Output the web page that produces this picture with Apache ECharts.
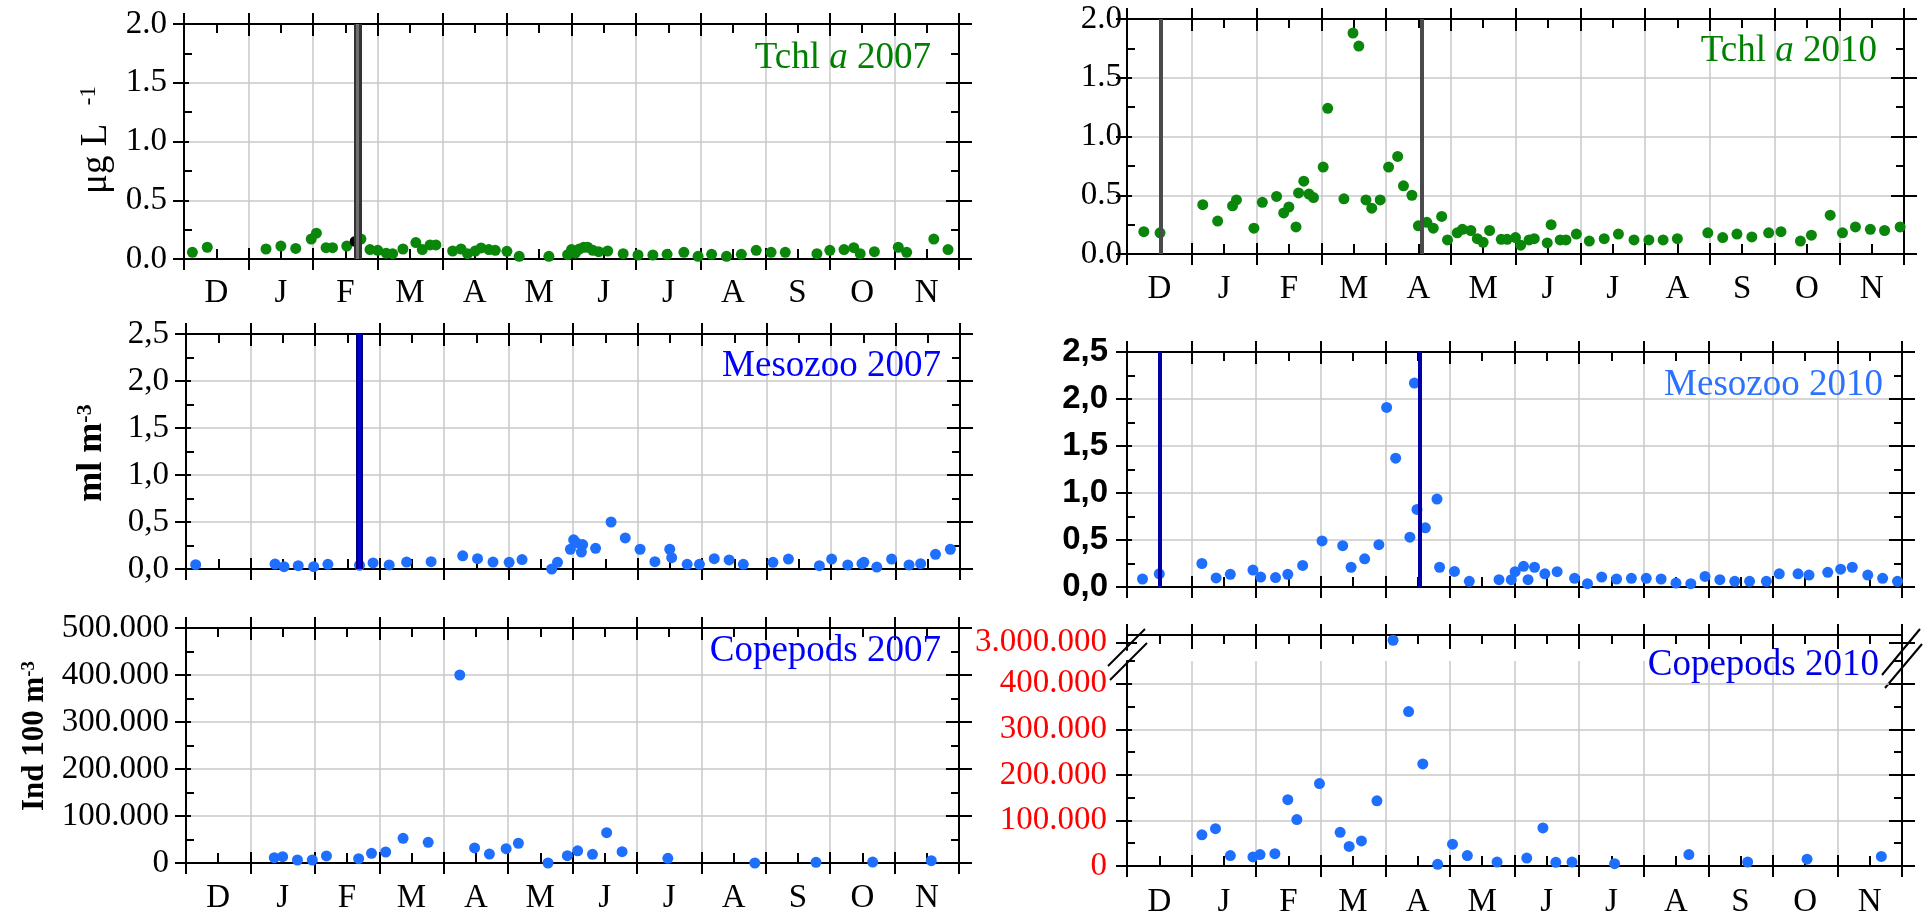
<!DOCTYPE html>
<html>
<head>
<meta charset="utf-8">
<title>Tchl a, Mesozoo and Copepods 2007 / 2010</title>
<script src="https://cdn.jsdelivr.net/npm/echarts@6/dist/echarts.min.js"></script>
<style>
  html, body { margin: 0; background: #fff; }
  #chart { width: 1927px; height: 919px; }
</style>
</head>
<body>
<div id="chart"></div>
<script>
// x is months since 1 December (0 = 1 Dec, 12 = 1 Dec next year)
const monthLabels = ['D', 'J', 'F', 'M', 'A', 'M', 'J', 'J', 'A', 'S', 'O', 'N'];

// Tchl a (ug/L)
const chl2007 = [[0.13,0.057],[0.36,0.10],[1.27,0.085],[1.50,0.11],[1.73,0.09],[1.97,0.17],[2.05,0.22],[2.20,0.096],[2.30,0.096],[2.52,0.11],[2.74,0.17],[2.88,0.08],[3.00,0.074],[3.13,0.05],[3.23,0.045],[3.39,0.085],[3.59,0.14],[3.69,0.08],[3.81,0.12],[3.90,0.12],[4.16,0.068],[4.29,0.085],[4.39,0.045],[4.51,0.068],[4.60,0.094],[4.72,0.08],[4.82,0.074],[5.00,0.065],[5.19,0.023],[5.65,0.023],[5.94,0.037],[6.00,0.08],[6.06,0.05],[6.12,0.085],[6.19,0.10],[6.25,0.10],[6.33,0.074],[6.42,0.062],[6.56,0.068],[6.80,0.045],[7.03,0.034],[7.26,0.034],[7.48,0.04],[7.74,0.057],[7.96,0.023],[8.17,0.04],[8.40,0.023],[8.63,0.04],[8.86,0.074],[9.09,0.057],[9.31,0.057],[9.80,0.045],[10.00,0.074],[10.22,0.08],[10.37,0.096],[10.47,0.045],[10.69,0.062],[11.06,0.10],[11.19,0.057],[11.61,0.17],[11.83,0.08]];
const chl2007Marked = [[2.65,0.15]];
const chl2007Bars = [2.69];

const chl2010 = [[0.26,0.19],[0.51,0.18],[1.17,0.42],[1.40,0.28],[1.63,0.41],[1.69,0.46],[1.96,0.22],[2.09,0.44],[2.31,0.49],[2.42,0.35],[2.50,0.40],[2.61,0.23],[2.65,0.52],[2.73,0.62],[2.81,0.51],[2.88,0.48],[3.03,0.74],[3.10,1.24],[3.35,0.47],[3.49,1.88],[3.58,1.77],[3.69,0.46],[3.78,0.39],[3.91,0.46],[4.04,0.74],[4.18,0.83],[4.27,0.58],[4.40,0.50],[4.50,0.24],[4.63,0.27],[4.73,0.22],[4.86,0.32],[4.95,0.12],[5.10,0.18],[5.18,0.21],[5.31,0.20],[5.41,0.13],[5.50,0.10],[5.60,0.20],[5.78,0.125],[5.87,0.125],[6.00,0.14],[6.08,0.075],[6.21,0.12],[6.29,0.13],[6.49,0.094],[6.55,0.25],[6.69,0.12],[6.78,0.12],[6.94,0.17],[7.14,0.11],[7.37,0.13],[7.59,0.17],[7.83,0.12],[8.06,0.12],[8.28,0.12],[8.50,0.13],[8.97,0.18],[9.20,0.14],[9.42,0.17],[9.65,0.145],[9.91,0.18],[10.10,0.19],[10.40,0.11],[10.57,0.16],[10.86,0.33],[11.05,0.18],[11.25,0.23],[11.48,0.21],[11.70,0.20],[11.94,0.23]];
const chl2010Lines = [0.52, 4.55];

// Mesozooplankton (ml/m3)
const meso2007 = [[0.15,0.046],[1.38,0.053],[1.52,0.025],[1.74,0.035],[1.98,0.025],[2.20,0.05],[2.69,0.04],[2.90,0.064],[3.15,0.043],[3.42,0.074],[3.80,0.078],[4.29,0.14],[4.52,0.11],[4.76,0.074],[5.01,0.071],[5.21,0.10],[5.67,0.0],[5.76,0.071],[5.96,0.21],[6.01,0.31],[6.05,0.28],[6.13,0.18],[6.15,0.26],[6.35,0.22],[6.59,0.50],[6.81,0.33],[7.04,0.21],[7.27,0.078],[7.50,0.21],[7.53,0.12],[7.77,0.05],[7.96,0.05],[8.19,0.11],[8.42,0.096],[8.64,0.05],[9.10,0.071],[9.34,0.106],[9.82,0.035],[10.01,0.106],[10.26,0.043],[10.48,0.057],[10.51,0.071],[10.71,0.021],[10.94,0.106],[11.21,0.043],[11.39,0.057],[11.62,0.156],[11.85,0.21]];
const meso2007Bars = [2.69];

const meso2010 = [[0.24,0.085],[0.50,0.14],[1.16,0.25],[1.38,0.096],[1.60,0.135],[1.95,0.18],[2.07,0.106],[2.30,0.10],[2.49,0.135],[2.72,0.23],[3.02,0.49],[3.34,0.44],[3.47,0.21],[3.68,0.30],[3.90,0.45],[4.02,1.91],[4.16,1.37],[4.38,0.53],[4.45,2.17],[4.49,0.825],[4.62,0.63],[4.80,0.935],[4.84,0.21],[5.07,0.166],[5.30,0.06],[5.76,0.078],[5.95,0.078],[6.01,0.163],[6.14,0.22],[6.21,0.078],[6.31,0.21],[6.47,0.14],[6.66,0.163],[6.93,0.092],[7.13,0.035],[7.35,0.106],[7.58,0.085],[7.81,0.092],[8.04,0.092],[8.27,0.085],[8.50,0.042],[8.73,0.035],[8.95,0.113],[9.18,0.078],[9.41,0.06],[9.64,0.06],[9.90,0.06],[10.10,0.14],[10.39,0.14],[10.56,0.127],[10.85,0.156],[11.05,0.19],[11.23,0.21],[11.47,0.127],[11.70,0.092],[11.93,0.06]];
const meso2010Lines = [0.50, 4.54];

// Copepods (ind / 100 m3)
const cope2007 = [[1.37,11400],[1.50,13500],[1.73,6400],[1.96,6400],[2.18,15000],[2.68,9200],[2.88,20600],[3.10,23400],[3.37,52600],[3.76,44000],[4.25,400000],[4.48,32000],[4.71,19000],[4.97,30500],[5.16,42000],[5.62,0],[5.92,15600],[6.08,26000],[6.31,18500],[6.53,64600],[6.77,24000],[7.48,10000],[8.83,0],[9.78,1400],[10.66,2000],[11.57,5000]];

const cope2010 = [[1.16,68500],[1.37,82000],[1.60,23000],[1.95,20000],[2.06,25000],[2.29,27000],[2.49,145600],[2.63,102000],[2.98,181000],[3.30,74000],[3.44,43000],[3.63,55000],[3.87,143000],[4.36,339000],[4.58,224000],[4.81,3600],[5.04,48000],[5.27,23000],[5.73,8600],[6.19,17300],[6.44,83600],[6.64,8000],[6.89,8600],[7.55,5000],[8.70,25000],[9.61,8600],[10.53,15000],[11.68,21000]];
const cope2010Peak = [[4.12,3030000]];

const SERIF = '"Liberation Serif", "Times New Roman", serif';
const SANS = '"Liberation Sans", Arial, sans-serif';
const GRID_COLOR = '#c8c8c8';
const GREEN = '#0a860a';
const BLUE_DOT = '#1f6fff';

function steps(a, b, step) {
  const out = [];
  for (let v = a; v <= b + step * 1e-6; v += step) out.push(+v.toFixed(6));
  return out;
}
const dotThousands = v => String(Math.round(v)).replace(/\B(?=(\d{3})+(?!\d))/g, '.');

const grids = [], xAxes = [], yAxes = [], series = [];

// one panel = a grid with framed axes; ticks cross the frame like the original plots
function addPanel(p) {
  const g = grids.length;
  grids.push({ left: p.left, top: p.top, width: p.width, height: p.height });
  const solid = { show: true, onZero: false, lineStyle: { color: '#000', width: 2 } };
  const hidden = { show: false, onZero: false };
  const tick = (len, inside, values) => ({
    show: true, inside: inside, length: len, customValues: values,
    lineStyle: { color: '#000', width: 2 }
  });
  const xMaj = steps(0, 12, 1), xMin = steps(0.5, 11.5, 1);
  const xAxis = (position, line, axisTick, splitShow) => {
    xAxes.push({
      gridIndex: g, type: 'value', position, min: 0, max: 12, interval: 1,
      axisLine: line ? solid : hidden, axisTick, axisLabel: { show: false },
      splitLine: { show: !!splitShow, lineStyle: { color: GRID_COLOR, width: 1.5 } }
    });
    return xAxes.length - 1;
  };
  let xMain = null;
  if (p.bottomAxis) {
    xMain = xAxis('bottom', true, tick(11, true, xMaj), p.vGrid);
    xAxis('bottom', false, tick(11, false, xMaj));
    xAxis('bottom', false, tick(10, true, xMin));
  }
  if (p.topAxis) {
    const i = xAxis('top', true, tick(p.topIn || 12, true, xMaj), xMain == null && p.vGrid);
    if (xMain == null) xMain = i;
    xAxis('top', false, tick(11, false, xMaj));
    xAxis('top', false, tick(9, true, xMin));
  }
  if (p.months) {
    xAxes.push({
      gridIndex: g, type: 'category', position: 'bottom', data: monthLabels, boundaryGap: true,
      axisLine: hidden, axisTick: { show: false }, splitLine: { show: false },
      axisLabel: { show: true, interval: 0, margin: p.monthMargin, color: '#000', fontFamily: SERIF, fontSize: 33 }
    });
  }
  const yAxis = (position, line, axisTick, label, split) => {
    yAxes.push({
      gridIndex: g, type: 'value', position, min: p.yMin, max: p.yMax, interval: p.yStep,
      axisLine: line ? solid : hidden, axisTick, axisLabel: label || { show: false },
      splitLine: split || { show: false }
    });
    return yAxes.length - 1;
  };
  const yMain = yAxis('left', true, tick(11, false, p.yMajor), {
    show: true, margin: p.labelMargin, color: p.labelColor || '#000',
    fontFamily: p.labelFont || SERIF, fontSize: p.labelSize || 33,
    fontWeight: p.labelWeight || 'normal', formatter: p.fmt
  }, { show: true, lineStyle: { color: p.splitColors || GRID_COLOR, width: 1.5 } });
  yAxis('left', false, tick(p.leftIn || 5, true, p.yMajor));
  if (p.yMinor.length) yAxis('left', false, tick(8, true, p.yMinor));
  yAxis('right', true, tick(13, true, p.yMajor));
  yAxis('right', false, tick(13, false, p.yMajor));
  if (p.yMinor.length) yAxis('right', false, tick(8, true, p.yMinor));
  return { x: xMain, y: yMain };
}

function addDots(ax, data, color) {
  series.push({
    type: 'scatter', xAxisIndex: ax.x, yAxisIndex: ax.y, data: data, symbolSize: 11,
    itemStyle: { color: color, opacity: 1 }, clip: false, z: 3, silent: true
  });
}
function addVLines(ax, values, color, width) {
  series.push({
    type: 'line', xAxisIndex: ax.x, yAxisIndex: ax.y, data: [], z: 1, silent: true,
    markLine: {
      silent: true, symbol: ['none', 'none'], label: { show: false }, animation: false,
      lineStyle: { color: color, width: width, type: 'solid', opacity: 1 },
      data: values.map(v => ({ xAxis: v }))
    }
  });
}

const fmt1 = v => v.toFixed(1);
const fmtComma = v => v.toFixed(1).replace('.', ',');

// Tchl a 2007
const p1 = addPanel({ left: 184, top: 24, width: 775, height: 235, bottomAxis: true, topAxis: true, vGrid: true,
  months: true, monthMargin: 18, yMin: 0, yMax: 2, yStep: 0.5, yMajor: steps(0, 2, 0.5), yMinor: steps(0.25, 1.75, 0.5),
  labelMargin: 17, fmt: fmt1 });
addVLines(p1, chl2007Bars, '#333333', 8);
addVLines(p1, chl2007Bars, '#6e6e6e', 3);
addDots(p1, chl2007, GREEN);
addDots(p1, chl2007Marked, '#000000');

// Tchl a 2010
const p2 = addPanel({ left: 1127, top: 19, width: 777, height: 235, bottomAxis: true, topAxis: true, vGrid: true,
  months: true, monthMargin: 19, yMin: 0, yMax: 2, yStep: 0.5, yMajor: steps(0, 2, 0.5), yMinor: steps(0.25, 1.75, 0.5),
  labelMargin: 5, fmt: fmt1 });
addVLines(p2, chl2010Lines, '#4a4a4a', 4);
addDots(p2, chl2010, GREEN);

// Mesozoo 2007
const p3 = addPanel({ left: 186, top: 334, width: 774, height: 235, bottomAxis: true, topAxis: true, vGrid: true,
  months: false, yMin: 0, yMax: 2.5, yStep: 0.5, yMajor: steps(0, 2.5, 0.5), yMinor: steps(0.25, 2.25, 0.5),
  labelMargin: 17, fmt: fmtComma });
addVLines(p3, meso2007Bars, '#00006e', 7);
addVLines(p3, meso2007Bars, '#0000d0', 3);
addDots(p3, meso2007, BLUE_DOT);

// Mesozoo 2010
const p4 = addPanel({ left: 1127, top: 352, width: 775, height: 235, bottomAxis: true, topAxis: true, vGrid: true,
  months: false, yMin: 0, yMax: 2.5, yStep: 0.5, yMajor: steps(0, 2.5, 0.5), yMinor: steps(0.25, 2.25, 0.5),
  labelMargin: 19, labelFont: SANS, labelSize: 33, labelWeight: 'bold', fmt: fmtComma });
addVLines(p4, meso2010Lines, '#0000a8', 4);
addDots(p4, meso2010, BLUE_DOT);

// Copepods 2007
const p5 = addPanel({ left: 186, top: 628, width: 773, height: 235, bottomAxis: true, topAxis: true, vGrid: true,
  months: true, monthMargin: 19, yMin: 0, yMax: 500000, yStep: 100000, yMajor: steps(0, 500000, 100000),
  yMinor: steps(50000, 450000, 100000), labelMargin: 17, fmt: dotThousands });
addDots(p5, cope2007, BLUE_DOT);

// Copepods 2010, broken axis: small upper strip for the 3.000.000 value
const p6u = addPanel({ left: 1127, top: 635, width: 775, height: 15, bottomAxis: false, topAxis: true, topIn: 14, vGrid: false,
  months: false, yMin: 2900000, yMax: 3100000, yStep: 100000, yMajor: [3000000], yMinor: [], leftIn: 10,
  labelMargin: 20, labelColor: '#ff0000', splitColors: ['rgba(0,0,0,0)', GRID_COLOR, 'rgba(0,0,0,0)'],
  fmt: v => (v === 3000000 ? dotThousands(v) : '') });
addDots(p6u, cope2010Peak, BLUE_DOT);

const p6 = addPanel({ left: 1127, top: 661, width: 775, height: 208, bottomAxis: true, topAxis: false, vGrid: true,
  months: true, monthMargin: 20, yMin: 0, yMax: 450000, yStep: 100000, yMajor: steps(0, 400000, 100000),
  yMinor: steps(50000, 450000, 100000), labelMargin: 20, labelColor: '#ff0000',
  splitColors: [GRID_COLOR, GRID_COLOR, GRID_COLOR, GRID_COLOR, GRID_COLOR, 'rgba(0,0,0,0)'],
  fmt: v => (v % 100000 === 0 ? dotThousands(v) : '') });
addDots(p6, cope2010, BLUE_DOT);

function panelTitle(year, name, right, top, color, italicA) {
  const text = italicA ? '{n|Tchl }{i|a}{n| ' + year + '}' : '{n|' + name + ' ' + year + '}';
  return {
    text: text, right: right, top: top, padding: 0,
    textStyle: {
      fontFamily: SERIF, fontSize: 37, fontWeight: 'normal', color: color,
      rich: {
        n: { fontFamily: SERIF, fontSize: 37, color: color },
        i: { fontFamily: SERIF, fontSize: 37, color: color, fontStyle: 'italic' }
      }
    }
  };
}

function vLabel(x, y, main, sup, size, bold) {
  const w = bold ? 'bold ' : '';
  return {
    type: 'text', x: x, y: y, rotation: Math.PI / 2, silent: true,
    style: {
      text: '{a|' + main + '}{s|' + sup + '}',
      align: 'center', verticalAlign: 'middle', textAlign: 'center', textVerticalAlign: 'middle',
      rich: {
        a: { font: w + size + 'px ' + SERIF, fill: '#000', lineHeight: size },
        s: { font: w + Math.round(size * 0.62) + 'px ' + SERIF, fill: '#000', lineHeight: 6, verticalAlign: 'top' }
      }
    }
  };
}
const breakLine = (x1, y1, x2, y2) => ({ type: 'line', silent: true, shape: { x1, y1, x2, y2 }, style: { stroke: '#000', lineWidth: 2 } });

const chart = echarts.init(document.getElementById('chart'), null, { renderer: 'canvas' });
chart.setOption({
  animation: false,
  backgroundColor: '#ffffff',
  textStyle: { fontFamily: SERIF },
  title: [
    panelTitle('2007', 'Tchl', 996, 40, '#008000', true),
    panelTitle('2010', 'Tchl', 50, 33, '#008000', true),
    panelTitle('2007', 'Mesozoo', 986, 348, '#0000ff', false),
    panelTitle('2010', 'Mesozoo', 44, 367, '#2b73ff', false),
    panelTitle('2007', 'Copepods', 986, 633, '#0000ff', false),
    panelTitle('2010', 'Copepods', 48, 647, '#0000e6', false)
  ],
  grid: grids,
  xAxis: xAxes,
  yAxis: yAxes,
  series: series,
  graphic: [
    vLabel(96, 140, 'μg L  ', '-1', 37, false),
    vLabel(92, 453, 'ml m', '-3', 36, true),
    vLabel(35, 736, 'Ind 100 m', '-3', 31, true),
    breakLine(1108, 666, 1145, 629),
    breakLine(1110, 680, 1147, 643),
    breakLine(1882, 675, 1920, 629),
    breakLine(1885, 688, 1922, 644),
    { type: 'line', silent: true, shape: { x1: 1902, y1: 650, x2: 1902, y2: 661 }, style: { stroke: '#000', lineWidth: 2 } }
  ]
});
</script>
</body>
</html>
